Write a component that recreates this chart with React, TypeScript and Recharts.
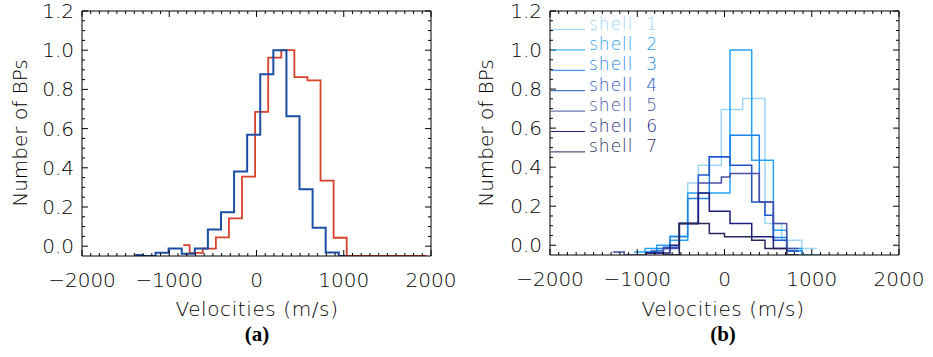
import { LineChart, Line, XAxis, YAxis } from 'recharts'

// velocity axis and count axis
const velTicks = [-2000, -1000, 0, 1000, 2000]
const countTicks = [0, 0.2, 0.4, 0.6, 0.8, 1.0, 1.2]

// panel (a): two histograms, bin edges (m/s) and normalised counts
const redEdges = [-840, -766, -616, -466, -316, -166, -16, 134, 284, 434, 584, 734, 884, 1034, 1950]
const redValues = [0.005, -0.034, -0.012, 0.045, 0.142, 0.355, 0.685, 0.962, 1.0, 0.863, 0.846, 0.335, 0.043, -0.05]
const blueEdges = [-1390, -1307, -1157, -1007, -857, -707, -557, -407, -257, -107, 43, 193, 343, 493, 643, 793, 943, 1030]
const blueValues = [-0.045, -0.05, -0.034, -0.012, -0.038, -0.012, 0.085, 0.173, 0.381, 0.569, 0.877, 1.0, 0.663, 0.291, 0.094, -0.032, -0.05]

// panel (b): one histogram per shell
const shellNames = ['shell  1', 'shell  2', 'shell  3', 'shell  4', 'shell  5', 'shell  6', 'shell  7']
const shell1Edges = [-925, -777, -625, -422, -300, -36, 208, 464, 655, 885, 1057]
const shell1Values = [-0.035, -0.017, 0.05, 0.319, 0.41, 0.696, 0.752, 0.111, 0.026, -0.017]
const shell2Edges = [-1037, -911, -777, -625, -422, 63, 312, 560, 713, 885, 1100]
const shell2Values = [-0.034, -0.017, 0.0, 0.026, 0.268, 1.0, 0.436, 0.077, -0.017, -0.05]
const shell3Edges = [-911, -777, -625, -422, -174, 63, 399, 560, 713, 900]
const shell3Values = [-0.034, -0.017, 0.043, 0.239, 0.453, 0.564, 0.222, 0.04, -0.03]
const shell4Edges = [-850, -700, -518, -300, -174, 63, 312, 464, 560, 713, 850]
const shell4Values = [-0.03, -0.01, 0.111, 0.36, 0.453, 0.41, 0.222, 0.154, 0.026, -0.03]
const shell5Edges = [-1281, -1150, -900, -700, -518, -300, -36, 63, 399, 560, 713, 850]
const shell5Values = [-0.035, -0.05, -0.04, -0.017, 0.111, 0.319, 0.35, 0.368, 0.222, 0.111, -0.017]
const shell6Edges = [-900, -625, -518, -300, -174, 63, 312, 560, 713]
const shell6Values = [-0.04, 0.0, 0.111, 0.268, 0.174, 0.111, 0.043, -0.017]
const shell7Edges = [-700, -518, -174, 0, 312, 464, 713, 850]
const shell7Values = [-0.05, 0.111, 0.06, 0.043, 0.026, -0.017, -0.05]

const SHELL_COLORS = ['#9fd5f5', '#29a3f5', '#1c84e8', '#1f55c8', '#4a4fa6', '#1d1f7e', '#262a58']
const FONT = '"DejaVu Sans", sans-serif'
const X_DOMAIN: [number, number] = [-2000, 2000]
const Y_DOMAIN: [number, number] = [-0.05, 1.2]

// minor tick positions
const xMinor = Array.from({ length: 41 }, (_, i) => -2000 + i * 100)
const yMinor = Array.from({ length: 25 }, (_, i) => Math.round(i * 5) / 100)

function steps(edges: number[], values: number[]) {
  return edges.map((e, i) => ({ x: e, y: values[Math.min(i, values.length - 1)] }))
}

function fmtVel(v: number) {
  return v < 0 ? '\u2212' + Math.abs(v) : String(v)
}

function XTick(props: any) {
  const { x, y, payload, dir, showLabel } = props
  const v = payload.value
  const major = velTicks.includes(v)
  const len = major ? 6 : 3
  return (
    <g>
      <line x1={x} y1={y} x2={x} y2={y + dir * len} stroke="#000" strokeWidth={1} />
      {showLabel && major && (
        <text x={x} y={y + 31} textAnchor="middle" fontFamily={FONT} fontWeight={200} fontSize={20} fill="#000">
          {fmtVel(v)}
        </text>
      )}
    </g>
  )
}

function YTick(props: any) {
  const { x, y, payload, dir, showLabel } = props
  const v = payload.value
  const major = countTicks.some((t) => Math.abs(t - v) < 1e-6)
  const len = major ? 6 : 3
  return (
    <g>
      <line x1={x} y1={y} x2={x + dir * len} y2={y} stroke="#000" strokeWidth={1} />
      {showLabel && major && (
        <text x={x - 8} y={y + 7} textAnchor="end" fontFamily={FONT} fontWeight={200} fontSize={20} fill="#000">
          {v.toFixed(1)}
        </text>
      )}
    </g>
  )
}

interface Series {
  name: string
  edges: number[]
  values: number[]
  color: string
  width: number
}

// plot box: top 11, given bottom; x axis band 30px, top band 1px, right band 1px
function Panel({ series, bottom }: { series: Series[]; bottom: number }) {
  return (
    <LineChart width={470} height={357} margin={{ top: 10, right: 38, left: 0, bottom: 357 - bottom - 30 }}>
      <XAxis
        dataKey="x"
        type="number"
        domain={X_DOMAIN}
        allowDataOverflow
        ticks={xMinor}
        interval={0}
        height={30}
        tickSize={0}
        tickMargin={0}
        tickLine={false}
        axisLine={{ stroke: '#000' }}
        tick={(p: any) => <XTick {...p} dir={-1} showLabel />}
      />
      <XAxis
        xAxisId="top"
        orientation="top"
        dataKey="x"
        type="number"
        domain={X_DOMAIN}
        allowDataOverflow
        ticks={xMinor}
        interval={0}
        height={1}
        tickSize={0}
        tickMargin={0}
        tickLine={false}
        axisLine={{ stroke: '#000' }}
        tick={(p: any) => <XTick {...p} dir={1} />}
      />
      <YAxis
        type="number"
        domain={Y_DOMAIN}
        allowDataOverflow
        ticks={yMinor}
        interval={0}
        width={82}
        tickSize={0}
        tickMargin={0}
        tickLine={false}
        axisLine={{ stroke: '#000' }}
        tick={(p: any) => <YTick {...p} dir={1} showLabel />}
      />
      <YAxis
        yAxisId="r"
        orientation="right"
        type="number"
        domain={Y_DOMAIN}
        allowDataOverflow
        ticks={yMinor}
        interval={0}
        width={1}
        tickSize={0}
        tickMargin={0}
        tickLine={false}
        axisLine={{ stroke: '#000' }}
        tick={(p: any) => <YTick {...p} dir={-1} />}
      />
      {series.map((s) => (
        <Line
          key={s.name}
          name={s.name}
          data={steps(s.edges, s.values)}
          dataKey="y"
          type="stepAfter"
          stroke={s.color}
          strokeWidth={s.width}
          dot={false}
          isAnimationActive={false}
        />
      ))}
    </LineChart>
  )
}

const panelA: Series[] = [
  { name: 'red', edges: redEdges, values: redValues, color: '#d8432b', width: 1.8 },
  { name: 'blue', edges: blueEdges, values: blueValues, color: '#1c4ea6', width: 2 },
]

const shellEdges = [shell1Edges, shell2Edges, shell3Edges, shell4Edges, shell5Edges, shell6Edges, shell7Edges]
const shellValues = [shell1Values, shell2Values, shell3Values, shell4Values, shell5Values, shell6Values, shell7Values]
const panelB: Series[] = shellNames.map((n, i) => ({
  name: n,
  edges: shellEdges[i],
  values: shellValues[i],
  color: SHELL_COLORS[i],
  width: 1.5,
}))

function Titles({ offset, tag }: { offset: number; tag: string }) {
  return (
    <>
      <text
        x={offset + 27}
        y={133}
        transform={`rotate(-90 ${offset + 27} 133)`}
        textAnchor="middle"
        fontFamily={FONT}
        fontWeight={200}
        fontSize={20}
        fill="#000"
      >
        Number of BPs
      </text>
      <text x={offset + 257} y={316} textAnchor="middle" fontFamily={FONT} fontWeight={200} fontSize={20} fill="#000" letterSpacing={0.6}>
        Velocities (m/s)
      </text>
      <text
        x={offset + 257}
        y={341}
        textAnchor="middle"
        fontFamily='"Liberation Serif", serif'
        fontWeight="bold"
        fontSize={21}
        fill="#000"
      >
        {tag}
      </text>
    </>
  )
}

export default function App() {
  return (
    <div style={{ position: 'absolute', left: 0, top: 0, width: 933, height: 357, background: '#fff', overflow: 'hidden' }}>
      <div style={{ position: 'absolute', left: 0, top: 0 }}>
        <Panel series={panelA} bottom={256} />
      </div>
      <div style={{ position: 'absolute', left: 468, top: 0 }}>
        <Panel series={panelB} bottom={255} />
      </div>
      <svg width={933} height={357} style={{ position: 'absolute', left: 0, top: 0, pointerEvents: 'none' }}>
        <Titles offset={0} tag="(a)" />
        <Titles offset={466} tag="(b)" />
        {shellNames.map((n, i) => (
          <g key={n}>
            <line x1={551} x2={585} y1={29.5 + i * 20.4} y2={29.5 + i * 20.4} stroke={SHELL_COLORS[i]} strokeWidth={1} />
            <text x={589} y={29.5 + i * 20.4} fontFamily={FONT} fontWeight={200} fontSize={17} letterSpacing={1} fill={SHELL_COLORS[i]} style={{ whiteSpace: 'pre' }}>
              {n}
            </text>
          </g>
        ))}
      </svg>
    </div>
  )
}
